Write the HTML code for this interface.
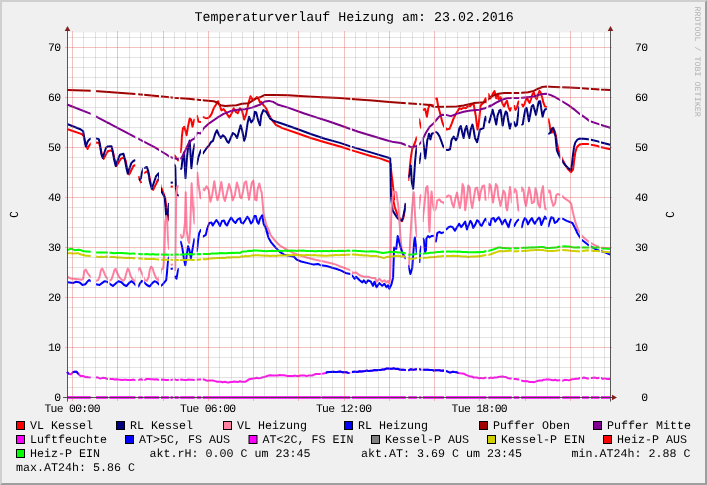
<!DOCTYPE html>
<html><head><meta charset="utf-8"><title>Temperaturverlauf Heizung</title>
<style>
html,body{margin:0;padding:0;background:#f0f0f0;}
body{width:707px;height:485px;overflow:hidden;position:relative;font-family:"Liberation Mono",monospace;}
svg{position:absolute;left:0;top:0;display:block;will-change:transform;}
text{font-family:"Liberation Mono",monospace;fill:#000;text-rendering:geometricPrecision;}
.t{font-size:13.3px;}
.l{font-size:11.67px;}
.a{font-size:11.4px;letter-spacing:-0.68px;}
.w{font-size:8.35px;fill:#b4b4b4;}
</style></head><body>
<svg width="707" height="485" viewBox="0 0 707 485">

<rect x="0" y="0" width="707" height="485" fill="#f0f0f0"/>
<path d="M0 0H707L705 2H2V483L0 485Z" fill="#cfcfcf"/>
<path d="M707 0V485H0L2 483H705V2Z" fill="#9e9e9e"/>
<rect x="67" y="32.4" width="543" height="365.6" fill="#ffffff"/>
<defs><clipPath id="g"><rect x="66.0" y="20" width="24.7" height="390"/><rect x="96.1" y="20" width="11.8" height="390"/><rect x="109.5" y="20" width="25.9" height="390"/><rect x="138.2" y="20" width="4.6" height="390"/><rect x="144.2" y="20" width="14.8" height="390"/><rect x="161.0" y="20" width="7.9" height="390"/><rect x="170.5" y="20" width="2.4" height="390"/><rect x="174.5" y="20" width="4.3" height="390"/><rect x="180.2" y="20" width="14.5" height="390"/><rect x="196.7" y="20" width="4.3" height="390"/><rect x="202.8" y="20" width="118.0" height="390"/><rect x="321.8" y="20" width="28.5" height="390"/><rect x="351.9" y="20" width="53.9" height="390"/><rect x="408.3" y="20" width="8.6" height="390"/><rect x="419.2" y="20" width="2.0" height="390"/><rect x="422.8" y="20" width="11.0" height="390"/><rect x="435.3" y="20" width="8.7" height="390"/><rect x="446.0" y="20" width="40.4" height="390"/><rect x="488.3" y="20" width="23.4" height="390"/><rect x="513.7" y="20" width="5.5" height="390"/><rect x="521.2" y="20" width="25.7" height="390"/><rect x="548.2" y="20" width="12.0" height="390"/><rect x="562.2" y="20" width="17.8" height="390"/><rect x="582.0" y="20" width="6.9" height="390"/><rect x="590.9" y="20" width="8.5" height="390"/><rect x="601.0" y="20" width="10.0" height="390"/></clipPath></defs>
<g clip-path="url(#g)" fill="none" stroke-width="2" stroke-linejoin="round" stroke-linecap="butt">
<path d="M67.7 129.2L81.8 134.1L83.9 136.3L85.3 143.3L87.5 149.0L88.9 146.2L91.0 143.3L95.9 142.6L99.1 143.1L100.5 148.3L102.3 156.1L103.7 158.9L105.8 154.7L108.0 151.1L110.8 150.4L112.9 151.8L114.3 158.2L116.5 166.0L118.6 162.4L120.7 158.9L123.5 157.5L125.6 160.3L127.1 168.1L129.2 174.5L131.3 170.2L133.4 166.0L135.6 165.0" stroke="#ff0000"/>
<path d="M138.4 176.2L141.2 183.2" stroke="#ff0000"/>
<path d="M143.3 173.3L144.8 172.6L147.6 171.2L149.0 174.8L150.8 183.9L153.2 189.9L156.1 183.9L158.2 179.0" stroke="#ff0000"/>
<path d="M161.2 187.6L163.3 192.5L165.2 198.2L166.2 206.7L167.5 221.0L168.6 216.0L169.4 213.7" stroke="#ff0000"/>
<path d="M170.3 186.8L173.0 186.4" stroke="#ff0000"/>
<path d="M174.1 154.8L178.1 160.4L178.9 161.0" stroke="#ff0000"/>
<path d="M180.2 153.0L180.5 151.9L181.2 148.0L181.9 136.6L182.9 128.1L184.3 126.7L185.5 130.9L186.6 135.2L188.0 126.7L189.7 118.5L191.1 119.6L192.5 126.7L193.9 121.0L194.7 118.9" stroke="#ff0000"/>
<path d="M196.5 115.4L197.1 116.1L198.5 121.7L201.3 122.1" stroke="#ff0000"/>
<path d="M202.4 117.1L203.1 117.1L205.3 117.9L207.4 118.2L209.5 117.1L211.6 113.9L213.7 108.3L215.9 104.8L218.0 101.2L219.4 104.8L221.5 110.4L223.6 109.0L225.8 111.8L227.9 115.4L229.3 117.5L231.4 113.9L233.6 108.3L235.7 111.8L237.8 113.2L239.9 108.3L242.0 110.4L244.2 119.6L246.3 113.9L248.4 103.3L250.5 96.3L252.6 99.8L254.8 99.1L256.9 97.0L259.0 99.8L260.0 102.6L261.2 101.9L263.3 104.8L266.2 108.3L268.3 113.2L270.4 117.5L273.2 121.7L276.1 125.0L282.4 128.1L296.6 133.0L310.7 138.0L324.9 142.2L340.0 146.5L351.2 150.1L372.4 156.5L380.0 158.4L385.7 160.5L389.6 161.9L390.7 164.0L391.3 172.5L392.4 181.0L393.4 189.5L394.1 199.4L393.4 200.7L394.9 207.7L397.0 213.4L399.8 218.3L401.9 221.2L403.3 218.3L404.8 210.6L405.7 204.2" stroke="#ff0000"/>
<path d="M408.2 181.0L409.7 168.0L410.8 158.0L412.2 149.0L414.0 145.0L415.3 142.0L416.9 136.6" stroke="#ff0000"/>
<path d="M419.0 118.5L420.9 127.4L421.3 128.5" stroke="#ff0000"/>
<path d="M422.6 110.4L423.3 109.7L425.2 109.0L426.9 116.8L428.3 108.3L429.7 104.8L433.8 105.5" stroke="#ff0000"/>
<path d="M435.2 99.1L436.8 98.4L438.2 106.2L440.3 113.9L442.4 122.4L443.8 126.0L446.7 129.5L449.5 128.8L451.6 123.8L453.7 118.2L455.9 113.9L458.0 110.4L459.4 108.3L461.5 109.0L463.6 107.6L465.8 108.3L467.9 106.2L470.0 106.2L472.1 104.3L473.6 104.0L475.7 115.4L477.5 129.5L478.9 122.4L480.6 105.5L483.5 102.6L485.6 98.4L487.0 102.6L488.4 94.1L490.5 98.4L492.6 94.1L494.5 91.0L496.2 98.4L498.3 94.1L498.5 99.3L500.6 97.2L502.7 104.3L504.1 106.4L505.6 102.9L507.0 100.8L508.4 107.1L510.1 110.7L511.5 107.1" stroke="#ff0000"/>
<path d="M513.8 105.4L514.0 105.7L515.5 109.9L516.9 107.8L518.3 102.2L519.3 100.8" stroke="#ff0000"/>
<path d="M521.3 104.0L521.8 104.3L523.2 106.4L524.7 103.6L526.1 99.3L527.1 97.2L528.2 100.8L529.6 102.9L531.0 99.3L532.4 94.4L533.8 92.3L535.3 97.2L536.7 99.3L538.1 94.4L539.5 90.9L540.6 92.3L542.1 97.2L543.5 102.9L544.9 106.4L546.9 107.1" stroke="#ff0000"/>
<path d="M548.1 118.5L548.4 119.2L549.5 124.1L550.5 131.2L551.9 132.6L553.3 129.1L554.8 131.2L555.9 135.5L556.9 142.5L558.3 149.6L560.3 154.6L562.5 159.5L565.4 165.2L568.2 169.4L571.0 172.2L573.1 169.4L574.1 160.9L575.3 152.4L576.7 147.5L578.8 145.1L581.6 143.9L588.0 143.9L591.1 144.7L597.9 146.1L600.4 147.1L610.2 149.3" stroke="#ff0000"/>
<path d="M67.7 124.2L80.4 129.2L83.2 131.3L84.3 138.4L85.8 146.6L87.5 141.9L88.9 139.8L91.0 138.4L95.9 138.4L98.8 139.1L99.9 144.0L101.3 153.9L102.7 157.9L104.4 152.5L106.1 147.6L108.0 146.4L111.5 146.2L112.6 150.4L114.1 159.6L115.7 166.0L117.9 159.6L120.0 154.7L123.5 153.7L124.9 159.6L126.4 168.1L127.8 173.7L129.6 168.1L131.3 163.1L133.4 161.0L135.6 160.0" stroke="#000080"/>
<path d="M139.1 180.4L140.9 178.3L141.9 172.6L143.3 168.4L146.9 167.0L148.3 171.2L149.7 181.1L151.8 188.9L153.9 182.5L156.1 176.2L158.5 173.3L161.2 191.1L163.3 194.7L164.8 198.2L165.5 206.7L166.2 215.9L167.3 220.5L168.2 209.0L169.0 203.0" stroke="#000080"/>
<path d="M170.3 182.8L173.0 182.4" stroke="#000080"/>
<path d="M174.1 164.0L175.3 166.8L175.8 186.6L176.7 194.4L178.9 195.8" stroke="#000080"/>
<path d="M180.2 169.5L181.5 168.2L182.6 158.3L184.0 152.6L185.5 178.1L186.9 158.3L188.3 145.6L189.7 140.6L191.4 168.2L193.2 151.2L194.8 143.4" stroke="#000080"/>
<path d="M196.6 165.0L197.1 163.2L198.5 156.9L201.1 149.5" stroke="#000080"/>
<path d="M202.7 154.0L203.1 153.3L206.7 148.0L208.8 145.8L210.9 142.2L213.0 140.8L215.2 133.7L216.9 130.2L218.7 134.5L220.8 138.0L222.9 135.2L225.1 137.3L227.2 141.5L228.6 142.9L230.7 138.0L232.8 133.0L235.0 134.5L237.1 138.0L239.2 130.2L240.6 125.3L242.0 129.5L244.2 140.8L245.6 136.6L247.7 122.4L249.1 116.8L251.2 122.4L253.4 119.6L254.8 111.8L256.2 112.5L258.3 121.0L260.0 125.3L261.2 115.4L263.3 110.1L266.2 111.8L268.3 115.4L270.4 118.9L273.9 121.0L282.4 123.8L296.6 128.8L310.7 134.0L324.9 138.7L340.0 142.9L351.2 146.6L372.4 152.9L389.4 158.0L390.2 158.4L390.6 175.4L391.0 196.6L391.6 202.1L392.7 210.6L394.9 214.1L397.0 217.6L399.8 220.2L401.9 220.5L403.3 216.2L404.8 209.1L405.7 202.8" stroke="#000080"/>
<path d="M408.2 178.0L408.3 177.5L409.7 174.0L410.8 165.5L411.8 182.4L413.2 188.8L414.2 175.4L415.1 161.2L416.1 151.3L417.0 146.0" stroke="#000080"/>
<path d="M419.1 164.0L419.3 162.6L420.3 157.0L421.4 152.5" stroke="#000080"/>
<path d="M422.7 137.0L422.9 140.0L424.1 148.5L425.3 158.4L426.4 148.5L427.3 140.0L428.0 138.0L429.0 133.7L430.4 139.4L431.8 133.7L433.9 133.0" stroke="#000080"/>
<path d="M435.2 131.6L437.5 133.0L439.6 136.6L441.7 142.2L443.0 146.0L444.1 148.0" stroke="#000080"/>
<path d="M445.9 149.8L448.0 150.0L450.0 149.2L450.7 145.7L451.4 140.5L451.9 139.4L453.7 136.6L455.9 140.1L457.3 138.0L459.4 128.1L460.8 126.0L462.2 132.3L463.6 138.0L465.1 129.5L466.5 126.0L467.9 132.3L469.3 138.0L470.7 129.5L472.4 124.6L473.6 129.5L475.0 138.0L477.1 142.2L478.5 136.6L479.9 129.5L483.5 128.1L484.9 119.6L485.6 116.8L487.0 121.0L489.1 122.4L491.2 115.4L492.6 109.7L494.1 115.4L496.2 124.6L497.6 115.4L499.0 111.8L499.2 110.7L500.6 109.9L501.6 117.0L502.7 125.5L504.1 117.0L505.8 111.4L507.0 112.8L508.4 121.3L509.8 128.6L511.5 122.7" stroke="#000080"/>
<path d="M513.8 121.3L514.0 122.0L515.5 126.2L516.9 124.8L518.3 112.8L519.3 106.4" stroke="#000080"/>
<path d="M521.3 125.2L521.4 124.8L522.8 124.1L523.9 117.0L525.4 109.2L526.5 107.8L527.5 112.8L528.9 121.3L530.3 114.2L531.7 106.4L533.1 105.0L534.6 109.9L536.0 114.9L537.4 107.8L538.8 101.5L540.2 101.2L541.2 108.5L542.6 116.7L544.0 111.4L545.2 109.2L546.9 109.0" stroke="#000080"/>
<path d="M548.1 134.2L548.4 134.0L550.5 132.6L551.9 128.4L553.3 127.7L554.3 132.6L555.5 136.2L556.2 143.9L556.9 150.3L558.3 153.8L560.3 157.8L562.5 161.6L564.7 164.5L566.8 166.6L568.9 168.7L571.0 170.1L572.0 163.7L573.1 153.8L574.1 146.8L575.3 142.5L577.4 139.7L579.5 138.7L583.7 138.7L588.0 139.3L591.1 139.7L597.9 141.4L600.4 142.2L610.2 144.7" stroke="#000080"/>
<path d="M67.7 277.0L70.5 278.4L76.1 279.0L81.8 279.8L83.2 278.7L84.3 270.9L85.8 269.5L87.5 273.0L89.6 275.8L91.0 277.3L95.9 280.8L98.1 280.1L99.5 277.3L100.9 270.2L102.3 268.5L103.7 271.6L105.8 276.6L107.3 278.4L109.4 280.8L111.5 279.4L113.2 274.4L114.6 269.5L115.7 268.8L117.2 273.0L119.3 277.3L121.4 279.4L123.5 280.8L124.9 278.7L126.4 273.0L127.8 268.5L129.2 270.9L130.6 275.8L132.7 279.4L135.6 281.5L137.0 273.0L138.4 268.8L139.8 268.1L141.2 271.6L142.3 274.4L144.7 280.1L146.9 280.8L148.6 277.3L149.7 270.2L151.1 266.7L152.5 268.1L153.9 273.0L156.1 278.0L158.9 280.8L161.0 270.2L162.0 269.1L163.3 268.1L164.3 255.4L165.2 222.0L166.3 216.0L167.3 222.0L167.9 237.0L169.0 249.7" stroke="#ff80a0"/>
<path d="M170.3 264.8L173.0 264.4" stroke="#ff80a0"/>
<path d="M174.4 271.0L175.2 270.0L175.8 228.0L176.2 195.0L177.3 186.5L178.9 186.0" stroke="#ff80a0"/>
<path d="M180.2 234.0L181.7 238.0L183.5 236.0L185.0 222.0L185.7 192.3L186.7 231.0L188.3 241.0L189.2 243.0L190.2 228.0L191.6 183.3L193.0 206.7L194.5 223.6L195.7 200.0L197.3 172.7L198.7 185.5L200.5 198.2L201.5 196.0L202.2 188.3L204.4 190.4L206.5 186.2L208.6 189.7L210.4 201.7L212.1 195.4L214.3 181.2L216.4 195.4L217.5 200.3L219.2 193.9L221.3 181.9L223.5 196.8L224.9 201.0L227.0 192.5L229.1 184.0L231.2 191.1L232.6 200.3L234.8 195.4L236.9 182.6L239.0 189.7L240.0 196.8L241.4 198.3L243.1 191.2L244.5 182.7L246.2 181.3L247.6 191.2L249.0 199.7L250.4 191.2L251.8 182.7L253.3 180.6L254.4 191.2L255.1 199.7L256.5 200.4L257.5 189.8L259.3 183.4L260.8 189.8L261.7 192.6L262.6 202.5L263.6 213.8L265.0 219.5L266.4 225.2L268.5 229.4L270.7 235.1L272.1 237.0L275.6 241.3L279.8 245.5L285.5 248.8L292.6 252.6L299.6 255.4L306.7 257.5L315.2 259.7L323.7 261.5L332.2 263.5L336.0 264.6L341.2 266.8L346.9 268.9L350.4 270.1L352.5 272.9L356.1 272.5L359.6 275.3L363.8 276.7L368.1 276.7L372.3 278.1L375.2 278.1L376.6 281.7L379.4 278.8L382.2 281.7L384.4 280.3L386.5 282.4L387.9 281.0L389.3 283.1L390.1 278.0L390.5 263.0L391.0 225.0L391.5 208.0L392.7 196.6L394.1 191.6L396.3 192.3L397.3 199.4L398.4 206.5L399.1 216.2L400.5 237.4L401.9 251.6L403.3 255.8L405.9 257.2" stroke="#ff80a0"/>
<path d="M408.2 268.0L409.0 263.0L410.4 237.4L411.8 213.4L413.2 196.0L413.7 192.3L414.2 199.0L415.1 216.2L416.1 230.4L417.0 237.4" stroke="#ff80a0"/>
<path d="M418.9 209.1L420.3 196.4L421.0 195.0L421.4 197.0" stroke="#ff80a0"/>
<path d="M422.7 222.0L423.1 216.2L424.6 203.5L425.3 196.0L426.0 188.1L427.4 186.0L428.2 195.0L428.8 220.5L429.5 231.8L430.2 215.0L430.8 200.0L431.6 191.6L432.6 202.2L433.5 208.0L434.6 211.0L435.9 208.4L437.3 200.4L439.4 199.3L441.5 202.1L442.9 202.0L444.1 204.0" stroke="#ff80a0"/>
<path d="M445.9 197.2L446.4 196.8L448.5 195.4L450.6 196.1L452.0 203.2L453.7 207.4L455.3 198.9L457.0 192.6L458.4 200.4L459.8 208.1L461.2 200.4L462.6 184.1L463.8 187.6L465.2 210.3L466.6 200.4L468.3 185.5L469.7 187.6L470.8 200.4L472.2 208.1L473.9 197.5L475.4 188.3L477.1 187.6L478.2 193.3L479.3 200.4L480.7 191.9L482.4 186.2L484.1 185.5L485.0 191.9L485.5 199.7L487.2 200.4L488.8 191.2L489.5 184.1L490.9 186.2L492.1 196.1L493.0 202.5L494.5 193.3L495.9 184.1L497.3 186.2L498.3 196.1L499.4 200.4L500.5 206.0L502.0 198.9L503.4 190.5L505.1 193.3L506.2 207.4L507.2 210.3L508.6 198.9L510.0 186.9L511.1 193.3L511.9 203.2" stroke="#ff80a0"/>
<path d="M513.7 193.3L515.0 189.0L516.4 191.2L517.5 201.8L518.5 210.3L519.9 211.0" stroke="#ff80a0"/>
<path d="M521.2 191.9L521.8 187.6L523.5 189.8L524.6 200.4L526.0 206.0L527.4 197.5L529.1 187.6L530.5 193.3L531.9 203.2L534.1 201.8L535.5 188.3L536.9 193.3L538.3 204.6L540.0 207.4L541.3 193.3L543.0 186.2L544.1 200.4L545.3 208.8L546.8 209.6" stroke="#ff80a0"/>
<path d="M548.2 193.3L548.4 190.2L550.1 191.2L551.2 198.9L553.3 206.0L555.2 203.2L556.2 195.4L557.6 194.0L560.1 194.7L562.2 196.1L565.4 198.9L568.9 201.1L571.3 203.9L572.4 210.3L574.1 217.3L576.0 224.4L578.1 230.1L576.0 224.1L578.1 229.8L579.8 232.6L581.6 235.5L584.5 238.3L588.0 241.1L591.1 243.2L595.1 245.4L597.9 246.5L600.7 247.5L605.0 247.9L610.2 248.5" stroke="#ff80a0"/>
<path d="M67.7 282.2L73.3 282.9L76.1 281.8L79.7 282.6L82.5 285.0L85.3 284.3L87.5 281.5L89.2 280.1L91.0 281.2L95.9 284.3L99.5 285.0L102.3 282.9L104.4 281.2L107.3 281.8L109.4 283.6L112.9 286.0L115.7 283.6L118.6 281.2L121.4 282.2L124.2 285.0L126.4 286.0L129.2 282.9L131.3 281.2L133.4 282.6L135.6 285.0L138.4 286.5L139.8 283.6L141.9 280.8L144.0 282.2L146.9 285.0L149.7 286.5L152.5 282.9L154.6 281.2L156.8 282.2L158.9 284.3L161.0 285.7L162.0 285.0L163.3 283.6L166.2 280.1L166.9 273.7L167.9 262.4L169.0 256.8" stroke="#0000ff"/>
<path d="M170.3 269.0L173.0 268.6" stroke="#0000ff"/>
<path d="M174.4 276.0L174.7 276.3L176.5 278.7L177.9 270.9L178.9 268.0" stroke="#0000ff"/>
<path d="M180.2 241.0L181.0 242.6L182.4 248.3L183.8 258.2L185.3 265.3L186.7 255.4L188.1 246.2L189.5 250.4L190.9 258.2L192.3 250.4L194.5 238.4" stroke="#0000ff"/>
<path d="M196.5 252.0L197.3 248.3L198.0 241.2L199.1 233.4L200.8 229.9L201.2 229.5" stroke="#0000ff"/>
<path d="M202.6 237.0L202.9 236.7L205.8 234.9L207.2 228.5L209.3 223.0L211.4 222.5L212.8 225.5L214.3 223.0L216.4 220.0L218.5 223.0L220.0 226.0L222.0 221.0L224.0 220.5L225.5 224.0L227.0 225.5L229.1 221.0L231.2 217.5L233.4 221.0L235.5 223.0L237.6 219.5L240.0 218.0L241.0 222.3L243.1 223.5L245.2 220.2L247.3 216.7L249.0 218.8L250.9 223.5L252.7 221.6L254.4 216.0L255.8 216.0L257.2 221.6L258.6 223.7L260.0 218.8L262.2 215.3L263.6 223.7L265.7 228.0L267.8 233.6L266.4 230.7L268.5 237.7L271.4 242.7L275.6 247.6L279.8 251.9L284.1 254.7L289.7 255.8L294.0 256.8L296.8 259.7L301.1 261.5L306.7 262.9L313.8 264.6L318.0 263.9L320.9 265.3L326.5 266.0L332.2 267.7L336.0 268.8L341.2 270.6L345.5 272.9L350.4 273.9L352.5 276.0L354.7 278.8L356.1 276.7L359.6 280.3L362.4 282.4L363.8 280.3L366.0 283.1L368.1 280.3L370.9 281.7L373.0 285.9L374.5 281.7L376.6 287.3L379.4 283.1L382.2 285.9L384.4 283.8L386.5 287.3L387.9 285.2L389.3 288.7L391.4 284.5L393.1 277.4L393.8 256.2L394.1 247.5L395.2 248.5L396.3 248.7L397.0 242.0L397.7 236.0L398.4 238.0L399.1 241.7L401.2 249.5L403.3 254.4L405.9 259.0" stroke="#0000ff"/>
<path d="M408.2 265.0L408.3 265.5L410.4 274.0L412.2 268.3L413.2 254.1L414.3 241.0L414.9 237.4L416.0 246.0L417.0 254.4" stroke="#0000ff"/>
<path d="M419.2 263.0L419.5 260.6L420.3 251.0L421.3 245.8" stroke="#0000ff"/>
<path d="M422.7 238.0L423.8 240.0L425.0 252.0L426.0 250.0L426.4 238.5L428.1 236.0L429.5 237.4L431.6 236.0L433.9 235.7" stroke="#0000ff"/>
<path d="M435.3 242.4L435.9 241.0L437.3 233.2L439.4 231.8L441.5 233.2L443.9 232.1" stroke="#0000ff"/>
<path d="M445.9 229.6L446.4 229.4L448.5 227.2L450.6 226.5L452.7 227.2L454.9 230.8L457.0 227.2L459.1 223.7L461.2 227.2L463.3 224.4L465.2 221.6L466.9 229.4L468.3 225.8L470.4 220.9L471.8 223.0L473.2 227.9L475.4 224.4L477.1 220.2L478.9 221.6L480.3 225.1L481.7 225.8L483.8 221.6L485.5 218.7L487.2 221.6L488.8 224.4L490.2 225.1L491.6 218.7L493.7 218.0L495.2 221.6L496.6 219.5L498.7 217.3L500.8 220.9L502.2 224.4L503.6 221.6L505.1 219.5L506.5 223.0L508.6 227.2L510.0 221.6L511.4 218.7" stroke="#0000ff"/>
<path d="M513.7 226.5L514.3 225.8L515.7 223.0L517.8 220.2L519.3 219.5" stroke="#0000ff"/>
<path d="M521.2 227.9L521.8 227.2L523.2 221.6L524.9 218.0L526.6 220.2L528.0 224.4L529.8 220.9L531.9 218.0L533.4 221.6L534.8 223.7L536.9 220.2L539.0 217.6L540.0 218.7L541.3 225.1L543.4 220.2L544.9 216.6L546.8 219.5" stroke="#0000ff"/>
<path d="M548.1 227.0L548.4 226.5L549.8 221.6L551.2 217.3L553.3 218.0L554.8 223.0L556.9 221.6L559.0 218.7L562.5 218.7L566.8 220.9L572.4 223.0L574.6 227.2L576.7 231.5L576.7 231.9L578.8 235.5L581.6 239.7L585.2 242.5L588.0 244.7L591.1 246.5L595.1 248.9L597.9 250.3L600.7 251.0L605.0 252.4L610.2 254.6" stroke="#0000ff"/>
<path d="M67.1 89.9L91.0 90.7L135.6 93.9L162.0 96.4L174.1 97.7L188.3 98.8L202.4 100.2L213.7 101.2L216.6 102.3L220.8 105.2L225.1 105.9L236.4 105.2L242.0 103.8L248.4 103.3L251.9 101.2L256.2 98.4L260.0 97.3L264.8 94.9L275.4 94.9L288.1 95.3L303.6 96.3L322.0 97.3L340.0 98.1L351.2 98.9L372.4 100.6L389.4 102.0L406.4 103.2L417.7 104.1L430.0 104.9L433.9 106.9L456.6 106.6L463.6 105.5L473.6 103.1L484.9 102.3L488.4 99.1L491.9 96.3L494.2 95.1L498.5 93.7L504.1 93.0L511.2 93.0L519.0 93.0L528.2 92.3L533.8 90.9L538.1 88.7L542.3 87.0L546.6 86.6L553.6 87.0L569.2 87.6L579.1 88.0L589.0 88.7L600.0 89.5L610.5 90.0" stroke="#a00000"/>
<path d="M67.1 104.5L91.0 113.9L135.6 137.3L155.4 147.6L161.4 151.5L165.7 154.0L169.9 156.9L174.1 158.3L177.7 159.0L181.2 158.3L183.3 154.8L186.2 148.4L189.0 142.7L191.8 139.9L194.7 138.5L197.1 132.8L201.0 133.4L203.1 128.8L209.5 123.1L216.6 118.2L223.6 113.9L230.7 111.1L237.8 109.7L244.9 109.3L251.9 107.6L257.6 105.5L260.0 104.8L264.8 101.5L269.0 100.9L273.2 101.9L278.2 104.8L288.1 107.6L303.6 113.2L317.8 117.9L327.7 121.0L340.0 125.3L344.1 126.8L358.3 131.7L372.4 136.0L386.6 140.2L393.6 142.1L400.7 143.0L406.4 145.2L410.6 147.0L413.4 147.2L418.4 145.1L421.2 142.2L423.3 138.0L426.2 132.3L429.7 126.7L433.2 123.8L435.4 121.0L438.9 116.8L442.4 114.7L446.7 115.1L450.9 116.1L456.6 113.9L463.6 111.8L470.7 110.4L479.2 109.7L484.9 108.3L490.5 105.5L490.0 106.4L495.7 102.9L501.3 100.0L507.0 98.3L511.2 97.9L519.0 97.9L528.2 97.2L533.8 96.5L538.1 95.1L542.3 94.1L546.6 93.7L550.8 95.1L555.1 97.2L560.0 100.0L562.4 101.5L569.2 105.7L574.9 109.9L579.1 113.5L582.2 115.6L586.2 118.4L589.0 120.6L589.4 121.0L596.5 123.4L603.6 125.8L610.2 127.7" stroke="#800090"/>
<path d="M67.0 397.5L610.0 397.5" stroke="#f830f8" stroke-width="3"/>
<path d="M67.0 371.9L68.9 373.7L70.8 374.4L72.7 372.3L74.6 371.7L76.5 371.8L78.4 373.7L80.3 375.9L82.2 376.1L84.1 376.3L86.0 377.3L87.9 377.1L89.8 377.6L91.7 377.0L93.6 377.4L95.5 377.6L97.4 377.3L99.3 378.2L101.2 378.4L103.1 377.8L105.0 378.0L106.9 378.7L108.8 379.3L110.7 379.0L112.6 379.0L114.5 379.4L116.4 379.3L118.3 379.6L120.2 379.8L122.1 380.0L124.0 379.8L125.9 379.8L127.8 379.9L129.7 380.1L131.6 379.9L133.5 379.6L135.4 380.2L137.3 379.9L139.2 379.8L141.1 379.3L143.0 380.0L144.9 379.7L146.8 379.0L148.7 379.1L150.6 379.3L152.5 379.2L154.4 379.5L156.3 379.3L158.2 379.8L160.1 379.8L162.0 379.5L163.9 379.8L165.8 380.1L167.7 380.1L169.6 379.8L171.5 379.9L173.4 379.4L175.3 379.6L177.2 380.1L179.1 379.7L181.0 379.5L182.9 379.8L184.8 379.9L186.7 379.9L188.6 379.6L190.5 379.7L192.4 379.7L194.3 379.9L196.2 379.7L198.1 379.5L200.0 379.6L201.9 379.2L203.8 379.4L205.7 380.2L207.6 380.7L209.5 380.6L211.4 380.6L213.3 380.6L215.2 381.1L217.1 381.7L219.0 381.7L220.9 381.7L222.8 382.2L224.7 381.8L226.6 382.2L228.5 382.5L230.4 382.1L232.3 381.9L234.2 381.6L236.1 381.8L238.0 382.1L239.9 381.2L241.8 381.8L243.7 381.8L245.6 381.7L247.5 380.4L249.4 379.2L251.3 378.7L253.2 378.6L255.1 378.3L257.0 377.8L258.9 378.4L260.8 377.9L262.7 377.2L264.6 376.9L266.5 376.3L268.4 375.6L270.3 375.3L272.2 375.5L274.1 375.6L276.0 375.5L277.9 375.4L279.8 375.0L281.7 375.2L283.6 375.2L285.5 375.6L287.4 375.9L289.3 375.9L291.2 376.0L293.1 376.0L295.0 375.6L296.9 376.1L298.8 376.0L300.7 375.5L302.6 375.4L304.5 375.4L306.4 376.1L308.3 375.6L310.2 375.5L312.1 375.6L314.0 374.6L315.9 374.0L317.8 373.9L319.7 374.1L321.6 373.7L323.5 373.4L325.4 373.0L327.3 372.2L329.2 372.1L331.1 372.1L333.0 371.7L334.9 372.0L336.8 371.9L338.7 371.7L340.6 371.6L342.5 372.3L344.4 372.2L346.3 372.2L348.2 372.9L350.1 373.0L352.0 372.1L353.9 371.8L355.8 371.7L357.7 372.0L359.6 371.3L361.5 371.6L363.4 371.3L365.3 371.0L367.2 370.6L369.1 371.1L371.0 370.8L372.9 370.5L374.8 370.1L376.7 370.3L378.6 370.0L380.5 370.0L382.4 369.6L384.3 369.5L386.2 368.6L388.1 368.4L390.0 368.8L391.9 368.7L393.8 368.3L395.7 368.9L397.6 368.7L399.5 369.6L401.4 369.8L403.3 369.8L405.2 370.0L407.1 369.7L409.0 370.2L410.9 369.2L412.8 369.7L414.7 369.6L416.6 369.2L418.5 368.9L420.4 369.6L422.3 369.8L424.2 369.7L426.1 369.7L428.0 369.8L429.9 369.9L431.8 369.9L433.7 370.5L435.6 370.3L437.5 370.2L439.4 370.2L441.3 370.8L443.2 370.5L445.1 371.1L447.0 371.3L448.9 372.2L450.8 372.4L452.7 371.7L454.6 372.0L456.5 372.2L458.4 373.0L460.3 373.3L462.2 373.4L464.1 373.8L466.0 374.8L467.9 375.6L469.8 376.4L471.7 376.5L473.6 377.5L475.5 377.6L477.4 377.6L479.3 378.3L481.2 377.9L483.1 378.4L485.0 377.7L486.9 377.7L488.8 378.3L490.7 377.6L492.6 378.0L494.5 377.6L496.4 377.6L498.3 377.0L500.2 376.7L502.1 376.4L504.0 376.8L505.9 377.1L507.8 378.0L509.7 378.5L511.6 378.4L513.5 379.1L515.4 379.0L517.3 379.3L519.2 379.6L521.1 380.6L523.0 380.9L524.9 381.2L526.8 381.1L528.7 381.7L530.6 382.1L532.5 382.1L534.4 382.2L536.3 381.4L538.2 380.8L540.1 380.4L542.0 380.5L543.9 379.7L545.8 379.6L547.7 379.4L549.6 379.4L551.5 380.1L553.4 380.3L555.3 379.8L557.2 380.5L559.1 380.2L561.0 380.1L562.9 380.7L564.8 379.8L566.7 379.9L568.6 380.4L570.5 379.8L572.4 379.2L574.3 379.0L576.2 378.7L578.1 378.8L580.0 377.9L581.9 378.3L583.8 377.5L585.7 378.0L587.6 378.5L589.5 378.5L591.4 378.1L593.3 377.8L595.2 377.6L597.1 378.2L599.0 377.8L600.9 377.9L602.8 378.9L604.7 378.4L606.6 378.9L608.5 378.8L610.1 379.0" stroke="#f818e8"/>
<clipPath id="b"><rect x="66.0" y="360" width="2.8" height="30"/><rect x="72.5" y="360" width="6.0" height="30"/><rect x="325.8" y="360" width="23.0" height="30"/><rect x="351.0" y="360" width="107.4" height="30"/></clipPath>
<g clip-path="url(#b)"><path d="M67.0 371.9L68.9 373.7L70.8 374.4L72.7 372.3L74.6 371.7L76.5 371.8L78.4 373.7L80.3 375.9L82.2 376.1L84.1 376.3L86.0 377.3L87.9 377.1L89.8 377.6L91.7 377.0L93.6 377.4L95.5 377.6L97.4 377.3L99.3 378.2L101.2 378.4L103.1 377.8L105.0 378.0L106.9 378.7L108.8 379.3L110.7 379.0L112.6 379.0L114.5 379.4L116.4 379.3L118.3 379.6L120.2 379.8L122.1 380.0L124.0 379.8L125.9 379.8L127.8 379.9L129.7 380.1L131.6 379.9L133.5 379.6L135.4 380.2L137.3 379.9L139.2 379.8L141.1 379.3L143.0 380.0L144.9 379.7L146.8 379.0L148.7 379.1L150.6 379.3L152.5 379.2L154.4 379.5L156.3 379.3L158.2 379.8L160.1 379.8L162.0 379.5L163.9 379.8L165.8 380.1L167.7 380.1L169.6 379.8L171.5 379.9L173.4 379.4L175.3 379.6L177.2 380.1L179.1 379.7L181.0 379.5L182.9 379.8L184.8 379.9L186.7 379.9L188.6 379.6L190.5 379.7L192.4 379.7L194.3 379.9L196.2 379.7L198.1 379.5L200.0 379.6L201.9 379.2L203.8 379.4L205.7 380.2L207.6 380.7L209.5 380.6L211.4 380.6L213.3 380.6L215.2 381.1L217.1 381.7L219.0 381.7L220.9 381.7L222.8 382.2L224.7 381.8L226.6 382.2L228.5 382.5L230.4 382.1L232.3 381.9L234.2 381.6L236.1 381.8L238.0 382.1L239.9 381.2L241.8 381.8L243.7 381.8L245.6 381.7L247.5 380.4L249.4 379.2L251.3 378.7L253.2 378.6L255.1 378.3L257.0 377.8L258.9 378.4L260.8 377.9L262.7 377.2L264.6 376.9L266.5 376.3L268.4 375.6L270.3 375.3L272.2 375.5L274.1 375.6L276.0 375.5L277.9 375.4L279.8 375.0L281.7 375.2L283.6 375.2L285.5 375.6L287.4 375.9L289.3 375.9L291.2 376.0L293.1 376.0L295.0 375.6L296.9 376.1L298.8 376.0L300.7 375.5L302.6 375.4L304.5 375.4L306.4 376.1L308.3 375.6L310.2 375.5L312.1 375.6L314.0 374.6L315.9 374.0L317.8 373.9L319.7 374.1L321.6 373.7L323.5 373.4L325.4 373.0L327.3 372.2L329.2 372.1L331.1 372.1L333.0 371.7L334.9 372.0L336.8 371.9L338.7 371.7L340.6 371.6L342.5 372.3L344.4 372.2L346.3 372.2L348.2 372.9L350.1 373.0L352.0 372.1L353.9 371.8L355.8 371.7L357.7 372.0L359.6 371.3L361.5 371.6L363.4 371.3L365.3 371.0L367.2 370.6L369.1 371.1L371.0 370.8L372.9 370.5L374.8 370.1L376.7 370.3L378.6 370.0L380.5 370.0L382.4 369.6L384.3 369.5L386.2 368.6L388.1 368.4L390.0 368.8L391.9 368.7L393.8 368.3L395.7 368.9L397.6 368.7L399.5 369.6L401.4 369.8L403.3 369.8L405.2 370.0L407.1 369.7L409.0 370.2L410.9 369.2L412.8 369.7L414.7 369.6L416.6 369.2L418.5 368.9L420.4 369.6L422.3 369.8L424.2 369.7L426.1 369.7L428.0 369.8L429.9 369.9L431.8 369.9L433.7 370.5L435.6 370.3L437.5 370.2L439.4 370.2L441.3 370.8L443.2 370.5L445.1 371.1L447.0 371.3L448.9 372.2L450.8 372.4L452.7 371.7L454.6 372.0L456.5 372.2L458.4 373.0L460.3 373.3L462.2 373.4L464.1 373.8L466.0 374.8L467.9 375.6L469.8 376.4L471.7 376.5L473.6 377.5L475.5 377.6L477.4 377.6L479.3 378.3L481.2 377.9L483.1 378.4L485.0 377.7L486.9 377.7L488.8 378.3L490.7 377.6L492.6 378.0L494.5 377.6L496.4 377.6L498.3 377.0L500.2 376.7L502.1 376.4L504.0 376.8L505.9 377.1L507.8 378.0L509.7 378.5L511.6 378.4L513.5 379.1L515.4 379.0L517.3 379.3L519.2 379.6L521.1 380.6L523.0 380.9L524.9 381.2L526.8 381.1L528.7 381.7L530.6 382.1L532.5 382.1L534.4 382.2L536.3 381.4L538.2 380.8L540.1 380.4L542.0 380.5L543.9 379.7L545.8 379.6L547.7 379.4L549.6 379.4L551.5 380.1L553.4 380.3L555.3 379.8L557.2 380.5L559.1 380.2L561.0 380.1L562.9 380.7L564.8 379.8L566.7 379.9L568.6 380.4L570.5 379.8L572.4 379.2L574.3 379.0L576.2 378.7L578.1 378.8L580.0 377.9L581.9 378.3L583.8 377.5L585.7 378.0L587.6 378.5L589.5 378.5L591.4 378.1L593.3 377.8L595.2 377.6L597.1 378.2L599.0 377.8L600.9 377.9L602.8 378.9L604.7 378.4L606.6 378.9L608.5 378.8L610.1 379.0" stroke="#0000ff"/></g>
<path d="M67.1 253.1L69.0 253.3L70.9 253.2L72.8 253.4L74.7 253.5L76.6 253.3L78.5 253.3L80.4 254.3L82.3 254.8L84.2 255.3L86.1 255.8L88.0 255.8L89.9 256.1L91.8 256.1L93.7 256.5L95.6 256.5L97.5 256.8L99.4 256.9L101.3 256.8L103.2 256.9L105.1 256.8L107.0 256.6L108.9 256.9L110.8 256.9L112.7 257.0L114.6 257.0L116.5 257.5L118.4 257.4L120.3 257.6L122.2 257.8L124.1 257.8L126.0 258.0L127.9 257.8L129.8 258.1L131.7 258.0L133.6 258.3L135.5 258.3L137.4 258.3L139.3 258.5L141.2 258.6L143.1 259.0L145.0 258.8L146.9 258.9L148.8 258.9L150.7 259.0L152.6 259.0L154.5 259.1L156.4 259.3L158.3 259.4L160.2 259.6L162.1 259.7L164.0 259.8L165.9 259.8L167.8 259.9L169.7 259.8L171.6 259.7L173.5 260.0L175.4 260.1L177.3 260.1L179.2 259.9L181.1 260.0L183.0 259.8L184.9 260.0L186.8 259.9L188.7 259.8L190.6 259.7L192.5 260.0L194.4 260.1L196.3 259.5L198.2 259.7L200.1 259.4L202.0 259.2L203.9 259.1L205.8 259.2L207.7 259.1L209.6 258.5L211.5 258.6L213.4 258.2L215.3 258.3L217.2 258.0L219.1 258.1L221.0 258.0L222.9 257.8L224.8 257.9L226.7 257.5L228.6 257.3L230.5 257.5L232.4 257.2L234.3 257.2L236.2 257.2L238.1 257.2L240.0 256.9L241.9 256.2L243.8 256.4L245.7 256.0L247.6 256.2L249.5 256.1L251.4 255.6L253.3 255.4L255.2 255.2L257.1 255.2L259.0 255.3L260.9 255.4L262.8 255.5L264.7 255.7L266.6 255.6L268.5 255.7L270.4 255.9L272.3 255.7L274.2 255.7L276.1 255.9L278.0 255.6L279.9 255.6L281.8 255.3L283.7 255.4L285.6 255.4L287.5 255.1L289.4 255.3L291.3 255.2L293.2 254.9L295.1 255.2L297.0 255.1L298.9 255.2L300.8 255.1L302.7 255.2L304.6 255.2L306.5 254.9L308.4 254.9L310.3 255.2L312.2 255.3L314.1 255.0L316.0 255.3L317.9 255.5L319.8 255.5L321.7 255.6L323.6 255.7L325.5 255.7L327.4 255.7L329.3 255.4L331.2 255.3L333.1 255.4L335.0 255.0L336.9 255.1L338.8 255.2L340.7 254.9L342.6 254.8L344.5 255.0L346.4 254.7L348.3 254.7L350.2 254.6L352.1 254.6L354.0 254.4L355.9 254.7L357.8 254.8L359.7 255.2L361.6 255.1L363.5 255.4L365.4 255.3L367.3 255.5L369.2 255.8L371.1 256.0L373.0 255.9L374.9 256.0L376.8 256.1L378.7 256.7L380.6 257.0L382.5 257.8L384.4 257.9L386.3 257.1L388.2 256.7L390.1 256.6L392.0 256.4L393.9 256.3L395.8 256.0L397.7 255.8L399.6 256.0L401.5 256.4L403.4 256.3L405.3 256.8L407.2 258.3L409.1 258.7L411.0 258.7L412.9 258.9L414.8 258.4L416.7 258.0L418.6 258.1L420.5 257.9L422.4 258.2L424.3 257.8L426.2 257.8L428.1 257.6L430.0 257.2L431.9 257.2L433.8 257.1L435.7 256.9L437.6 256.6L439.5 256.4L441.4 256.2L443.3 256.0L445.2 255.9L447.1 256.1L449.0 255.9L450.9 256.1L452.8 255.7L454.7 256.1L456.6 255.9L458.5 256.1L460.4 256.3L462.3 256.5L464.2 256.6L466.1 256.6L468.0 257.0L469.9 256.7L471.8 256.6L473.7 256.6L475.6 256.4L477.5 256.2L479.4 256.3L481.3 255.9L483.2 255.5L485.1 255.2L487.0 255.1L488.9 254.7L490.8 254.3L492.7 253.5L494.6 252.8L496.5 252.1L498.4 251.4L500.3 251.0L502.2 251.3L504.1 251.3L506.0 251.1L507.9 251.0L509.8 250.6L511.7 250.9L513.6 251.6L515.5 251.3L517.4 251.2L519.3 251.0L521.2 251.0L523.1 250.9L525.0 250.8L526.9 250.8L528.8 250.4L530.7 250.3L532.6 250.2L534.5 250.1L536.4 249.9L538.3 250.1L540.2 249.9L542.1 249.9L544.0 250.3L545.9 250.6L547.8 251.1L549.7 251.1L551.6 251.1L553.5 250.9L555.4 250.7L557.3 250.4L559.2 250.3L561.1 250.0L563.0 250.0L564.9 250.3L566.8 250.3L568.7 250.4L570.6 250.7L572.5 251.0L574.4 251.1L576.3 251.3L578.2 251.2L580.1 251.4L582.0 251.1L583.9 250.8L585.8 250.5L587.7 250.3L589.6 250.6L591.5 250.6L593.4 250.9L595.3 251.0L597.2 251.1L599.1 251.3L601.0 251.4L602.9 251.5L604.8 252.1L606.7 252.1L608.6 252.3L610.2 252.1" stroke="#d0d000"/>
<path d="M67.1 250.0L69.0 249.5L70.9 248.6L72.8 249.3L74.7 250.2L76.6 250.0L78.5 249.8L80.4 250.1L82.3 250.8L84.2 251.2L86.1 251.4L88.0 251.4L89.9 251.7L91.8 251.8L93.7 252.1L95.6 252.4L97.5 252.5L99.4 252.4L101.3 252.4L103.2 252.4L105.1 252.4L107.0 252.5L108.9 252.8L110.8 252.8L112.7 252.9L114.6 253.2L116.5 253.1L118.4 253.1L120.3 253.0L122.2 253.0L124.1 253.2L126.0 253.2L127.9 253.4L129.8 253.7L131.7 253.6L133.6 253.4L135.5 253.8L137.4 254.0L139.3 254.0L141.2 254.2L143.1 254.1L145.0 254.2L146.9 254.0L148.8 254.3L150.7 254.4L152.6 254.1L154.5 254.5L156.4 254.6L158.3 254.6L160.2 254.6L162.1 254.6L164.0 254.8L165.9 254.6L167.8 254.8L169.7 254.6L171.6 254.8L173.5 254.8L175.4 254.6L177.3 254.6L179.2 254.7L181.1 254.6L183.0 254.4L184.9 254.2L186.8 254.2L188.7 254.3L190.6 254.1L192.5 254.4L194.4 254.1L196.3 254.3L198.2 254.0L200.1 254.3L202.0 254.1L203.9 254.0L205.8 254.0L207.7 254.0L209.6 253.9L211.5 253.6L213.4 253.5L215.3 253.5L217.2 253.6L219.1 253.3L221.0 253.0L222.9 253.3L224.8 253.2L226.7 253.3L228.6 252.9L230.5 253.1L232.4 252.8L234.3 253.0L236.2 252.8L238.1 252.7L240.0 253.0L241.9 251.7L243.8 251.6L245.7 251.6L247.6 251.1L249.5 250.8L251.4 251.0L253.3 250.6L255.2 250.6L257.1 250.4L259.0 250.7L260.9 250.7L262.8 251.1L264.7 251.0L266.6 251.3L268.5 250.9L270.4 251.1L272.3 250.8L274.2 250.9L276.1 251.1L278.0 250.7L279.9 250.7L281.8 250.9L283.7 250.8L285.6 250.6L287.5 251.0L289.4 250.7L291.3 250.6L293.2 250.7L295.1 250.8L297.0 250.9L298.9 250.6L300.8 250.7L302.7 250.6L304.6 250.8L306.5 251.0L308.4 251.0L310.3 251.1L312.2 251.1L314.1 251.2L316.0 251.2L317.9 251.1L319.8 251.0L321.7 251.2L323.6 251.0L325.5 250.9L327.4 251.0L329.3 251.2L331.2 250.8L333.1 251.0L335.0 250.9L336.9 250.9L338.8 250.7L340.7 251.1L342.6 250.8L344.5 250.9L346.4 250.8L348.3 250.6L350.2 250.9L352.1 250.8L354.0 250.8L355.9 250.8L357.8 250.9L359.7 250.9L361.6 251.2L363.5 251.2L365.4 251.4L367.3 251.5L369.2 251.6L371.1 251.3L373.0 251.5L374.9 251.5L376.8 251.8L378.7 252.2L380.6 252.6L382.5 253.0L384.4 252.8L386.3 252.5L388.2 252.2L390.1 251.8L392.0 251.9L393.9 252.1L395.8 252.0L397.7 252.4L399.6 252.4L401.5 252.5L403.4 252.8L405.3 253.2L407.2 254.4L409.1 254.7L411.0 254.6L412.9 254.5L414.8 254.2L416.7 253.5L418.6 253.4L420.5 253.4L422.4 253.8L424.3 253.5L426.2 253.3L428.1 253.2L430.0 252.7L431.9 252.7L433.8 252.6L435.7 252.2L437.6 252.0L439.5 252.1L441.4 251.7L443.3 251.6L445.2 251.8L447.1 251.6L449.0 251.5L450.9 251.8L452.8 251.5L454.7 251.4L456.6 251.7L458.5 251.5L460.4 251.7L462.3 252.0L464.2 252.1L466.1 252.0L468.0 252.3L469.9 252.2L471.8 252.3L473.7 252.2L475.6 252.3L477.5 252.1L479.4 252.2L481.3 252.0L483.2 252.0L485.1 251.3L487.0 251.3L488.9 250.7L490.8 250.3L492.7 249.6L494.6 249.0L496.5 248.3L498.4 247.4L500.3 247.5L502.2 247.9L504.1 247.9L506.0 248.3L507.9 248.3L509.8 248.5L511.7 248.4L513.6 248.0L515.5 248.2L517.4 248.2L519.3 248.1L521.2 247.9L523.1 247.8L525.0 247.7L526.9 247.7L528.8 247.4L530.7 247.4L532.6 247.3L534.5 247.4L536.4 247.2L538.3 247.2L540.2 247.1L542.1 247.1L544.0 247.3L545.9 247.9L547.8 248.0L549.7 247.9L551.6 247.8L553.5 247.7L555.4 247.4L557.3 247.3L559.2 246.7L561.1 246.3L563.0 246.4L564.9 246.2L566.8 246.5L568.7 246.5L570.6 246.7L572.5 247.2L574.4 247.4L576.3 247.4L578.2 247.2L580.1 247.4L582.0 247.4L583.9 247.6L585.8 247.6L587.7 247.5L589.6 247.5L591.5 247.3L593.4 247.5L595.3 247.7L597.2 247.6L599.1 247.6L601.0 248.2L602.9 248.4L604.8 248.4L606.7 248.8L608.6 248.8L610.2 248.9" stroke="#00ff00"/>
</g>
<g fill="none" stroke-width="2" stroke-linecap="butt">
<path d="M320.3 140.9L321.3 141.2L322.3 141.5" stroke="#ff0000"/>
<path d="M320.3 137.2L321.3 137.5L322.3 137.9" stroke="#000080"/>
<path d="M320.3 97.2L321.3 97.2L322.3 97.3" stroke="#a00000"/>
<path d="M320.3 118.7L321.3 119.0L322.3 119.3" stroke="#800090"/>
<path d="M320.3 251.1L321.3 251.2L322.3 251.2" stroke="#00ff00"/>
<path d="M320.3 255.5L321.3 255.6L322.3 255.7" stroke="#d0d000"/>
<path d="M107.4 152.1L108.7 150.9L110.0 150.6" stroke="#ff0000"/>
<path d="M107.4 146.8L108.7 146.4L110.0 146.3" stroke="#000080"/>
<path d="M107.4 91.9L108.7 92.0L110.0 92.1" stroke="#a00000"/>
<path d="M107.4 122.5L108.7 123.2L110.0 123.9" stroke="#800090"/>
<path d="M433.3 397.5L434.6 397.5L435.8 397.5" stroke="#f830f8" stroke-width="3"/>
<path d="M433.3 370.4L434.6 370.4L435.8 370.3" stroke="#0000ff"/>
<path d="M433.3 252.6L434.6 252.4L435.8 252.2" stroke="#00ff00"/>
<path d="M433.3 257.1L434.6 257.0L435.8 256.9" stroke="#d0d000"/>
<path d="M546.4 397.5L547.5 397.5L548.7 397.5" stroke="#f830f8" stroke-width="3"/>
<path d="M546.4 379.6L547.5 379.4L548.7 379.4" stroke="#f818e8"/>
<path d="M546.4 247.9L547.5 248.0L548.7 247.9" stroke="#00ff00"/>
<path d="M546.4 250.8L547.5 251.0L548.7 251.1" stroke="#d0d000"/>
<path d="M579.5 138.7L581.0 138.7L582.5 138.7" stroke="#000080"/>
<path d="M579.5 144.8L581.0 144.2L582.5 143.9" stroke="#ff0000"/>
</g>
<path d="M83.50 32V398M95.50 32V398M106.50 32V398M129.50 32V398M140.50 32V398M151.50 32V398M174.50 32V398M185.50 32V398M197.50 32V398M219.50 32V398M231.50 32V398M242.50 32V398M264.50 32V398M276.50 32V398M287.50 32V398M310.50 32V398M321.50 32V398M332.50 32V398M355.50 32V398M366.50 32V398M378.50 32V398M400.50 32V398M412.50 32V398M423.50 32V398M445.50 32V398M457.50 32V398M468.50 32V398M491.50 32V398M502.50 32V398M513.50 32V398M536.50 32V398M547.50 32V398M559.50 32V398M581.50 32V398M593.50 32V398M604.50 32V398" stroke="#8c8c8c" stroke-opacity="0.24" stroke-width="1" fill="none" shape-rendering="crispEdges"/>
<path d="M67 387.50H610M67 377.50H610M67 367.50H610M67 357.50H610M67 337.50H610M67 327.50H610M67 317.50H610M67 307.50H610M67 287.50H610M67 277.50H610M67 267.50H610M67 257.50H610M67 237.50H610M67 227.50H610M67 217.50H610M67 207.50H610M67 187.50H610M67 177.50H610M67 167.50H610M67 157.50H610M67 137.50H610M67 127.50H610M67 117.50H610M67 107.50H610M67 87.50H610M67 77.50H610M67 67.50H610M67 57.50H610M67 37.50H610" stroke="#8c8c8c" stroke-opacity="0.24" stroke-width="1" fill="none" shape-rendering="crispEdges"/>
<path d="M72.50 31V401M117.50 31V401M163.50 31V401M208.50 31V401M253.50 31V401M298.50 31V401M344.50 31V401M389.50 31V401M434.50 31V401M479.50 31V401M525.50 31V401M570.50 31V401" stroke="#e05050" stroke-opacity="0.36" stroke-width="1" fill="none" shape-rendering="crispEdges"/>
<path d="M65 397.50H612M65 347.50H612M65 297.50H612M65 247.50H612M65 197.50H612M65 147.50H612M65 97.50H612M65 47.50H612" stroke="#e05050" stroke-opacity="0.36" stroke-width="1" fill="none" shape-rendering="crispEdges"/>
<path d="M67.5 27V401.6M610.5 27V401.6M63 397.5H612" stroke="#3c3c3c" stroke-opacity="0.85" stroke-width="1" fill="none"/>
<path d="M64.7 31L67.5 26L70.3 31Z M607.7 31L610.5 26L613.3 31Z M612 394.7L617 397.5L612 400.3Z" fill="#801f1f"/>
<text class="t" x="194.6" y="21.0">Temperaturverlauf Heizung am: 23.02.2016</text>
<text class="a" x="60.4" y="400.9" text-anchor="end">0</text>
<text class="a" x="647.3" y="400.9" text-anchor="end">0</text>
<text class="a" x="60.4" y="350.9" text-anchor="end">10</text>
<text class="a" x="647.3" y="350.9" text-anchor="end">10</text>
<text class="a" x="60.4" y="300.9" text-anchor="end">20</text>
<text class="a" x="647.3" y="300.9" text-anchor="end">20</text>
<text class="a" x="60.4" y="250.9" text-anchor="end">30</text>
<text class="a" x="647.3" y="250.9" text-anchor="end">30</text>
<text class="a" x="60.4" y="200.9" text-anchor="end">40</text>
<text class="a" x="647.3" y="200.9" text-anchor="end">40</text>
<text class="a" x="60.4" y="150.9" text-anchor="end">50</text>
<text class="a" x="647.3" y="150.9" text-anchor="end">50</text>
<text class="a" x="60.4" y="100.9" text-anchor="end">60</text>
<text class="a" x="647.3" y="100.9" text-anchor="end">60</text>
<text class="a" x="60.4" y="50.9" text-anchor="end">70</text>
<text class="a" x="647.3" y="50.9" text-anchor="end">70</text>
<text class="a" x="72.1" y="412.0" text-anchor="middle">Tue 00:00</text>
<text class="a" x="207.8" y="412.0" text-anchor="middle">Tue 06:00</text>
<text class="a" x="343.6" y="412.0" text-anchor="middle">Tue 12:00</text>
<text class="a" x="479.3" y="412.0" text-anchor="middle">Tue 18:00</text>
<text class="l" transform="translate(18.1,217.8) rotate(-90) scale(0.93,1.06)">C</text>
<text class="l" transform="translate(674.3,217.8) rotate(-90) scale(0.93,1.06)">C</text>
<text class="w" transform="translate(694.5,6.5) rotate(90)">RRDTOOL / TOBI OETIKER</text>
<rect x="16.5" y="421.5" width="8" height="8" fill="#ff0000" stroke="#000" stroke-width="1"/>
<text class="l" x="30.0" y="429.0">VL Kessel</text>
<rect x="116.5" y="421.5" width="8" height="8" fill="#000080" stroke="#000" stroke-width="1"/>
<text class="l" x="130.0" y="429.0">RL Kessel</text>
<rect x="223.5" y="421.5" width="8" height="8" fill="#ff80a0" stroke="#000" stroke-width="1"/>
<text class="l" x="237.0" y="429.0">VL Heizung</text>
<rect x="344.5" y="421.5" width="8" height="8" fill="#0000ff" stroke="#000" stroke-width="1"/>
<text class="l" x="358.0" y="429.0">RL Heizung</text>
<rect x="479.5" y="421.5" width="8" height="8" fill="#a00000" stroke="#000" stroke-width="1"/>
<text class="l" x="493.0" y="429.0">Puffer Oben</text>
<rect x="593.5" y="421.5" width="8" height="8" fill="#800090" stroke="#000" stroke-width="1"/>
<text class="l" x="607.0" y="429.0">Puffer Mitte</text>
<rect x="16.5" y="435.5" width="8" height="8" fill="#ff00ff" stroke="#000" stroke-width="1"/>
<text class="l" x="30.0" y="443.0">Luftfeuchte</text>
<rect x="125.5" y="435.5" width="8" height="8" fill="#0000ff" stroke="#000" stroke-width="1"/>
<text class="l" x="139.0" y="443.0">AT&gt;5C, FS AUS</text>
<rect x="249.0" y="435.5" width="8" height="8" fill="#ff00ff" stroke="#000" stroke-width="1"/>
<text class="l" x="262.5" y="443.0">AT&lt;2C, FS EIN</text>
<rect x="371.5" y="435.5" width="8" height="8" fill="#808080" stroke="#000" stroke-width="1"/>
<text class="l" x="385.0" y="443.0">Kessel-P AUS</text>
<rect x="487.5" y="435.5" width="8" height="8" fill="#d0d000" stroke="#000" stroke-width="1"/>
<text class="l" x="501.0" y="443.0">Kessel-P EIN</text>
<rect x="603.5" y="435.5" width="8" height="8" fill="#ff0000" stroke="#000" stroke-width="1"/>
<text class="l" x="617.0" y="443.0">Heiz-P AUS</text>
<rect x="16.5" y="449.5" width="8" height="8" fill="#00ff00" stroke="#000" stroke-width="1"/>
<text class="l" x="30.0" y="457.0">Heiz-P EIN</text>
<text class="l" x="149.5" y="457.0">akt.rH: 0.00 C um 23:45</text>
<text class="l" x="361.0" y="457.0">akt.AT: 3.69 C um 23:45</text>
<text class="l" x="571.5" y="457.0">min.AT24h: 2.88 C</text>
<text class="l" x="16.0" y="471.0">max.AT24h: 5.86 C</text>
</svg></body></html>
